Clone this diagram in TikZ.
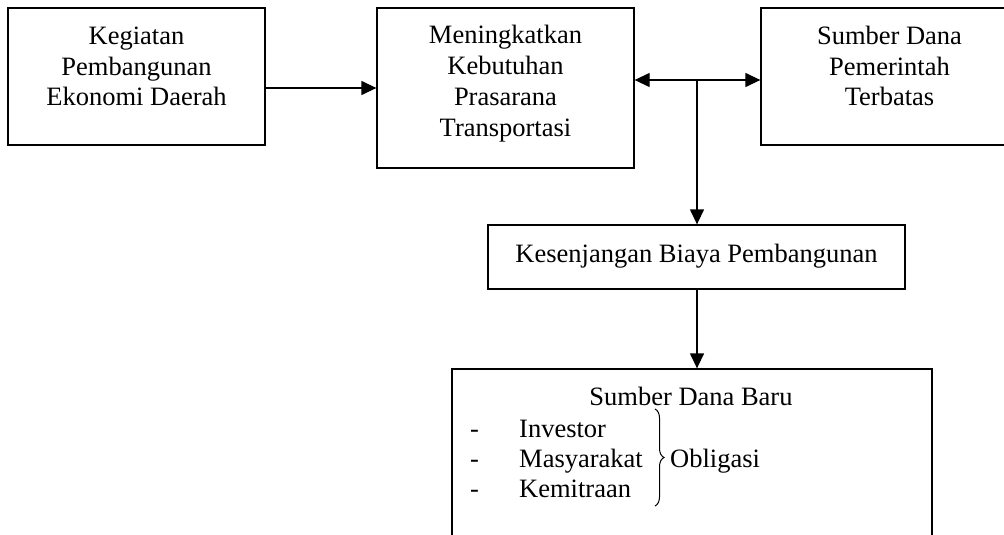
\documentclass[tikz,border=0pt]{standalone}
\usepackage{fontspec}
\setmainfont{Liberation Serif}
\usetikzlibrary{arrows.meta,decorations.pathreplacing}
\begin{document}
\begin{tikzpicture}[x=1pt,y=-1pt,
  box/.style={draw,line width=1.3pt,rectangle,inner sep=0pt},
  txt/.style={font=\fontsize{26.5}{31}\selectfont,align=center,inner sep=0pt,anchor=base},
  ltxt/.style={font=\fontsize{26.5}{31}\selectfont,inner sep=0pt,anchor=base west},
  conn/.style={line width=1.3pt,-{Triangle[length=15pt,width=14pt]}},
  dconn/.style={line width=1.3pt,{Triangle[length=15pt,width=14pt]}-{Triangle[length=15pt,width=14pt]}}]
\useasboundingbox (0,0) rectangle (1004,535);
\node[box,minimum width=257pt,minimum height=137pt] (b1) at (136.5,76.5) {};
\node[box,minimum width=257pt,minimum height=160pt] (b2) at (505.5,88) {};
\node[box,minimum width=257pt,minimum height=137pt] (b3) at (889.5,76.5) {};
\node[box,minimum width=417pt,minimum height=64pt] (b4) at (696.5,257) {};
\node[box,minimum width=480pt,minimum height=180pt] (b5) at (692,459) {};
\node[txt] (t1) at (136.5,106) {Kegiatan\\Pembangunan\\Ekonomi Daerah};
\node[txt] (t2) at (505.5,136) {Meningkatkan\\Kebutuhan\\Prasarana\\Transportasi};
\node[txt] (t3) at (889.5,106) {Sumber Dana\\Pemerintah\\Terbatas};
\node[txt] (t4) at (696.5,262) {Kesenjangan Biaya Pembangunan};
\node[txt] (t5) at (691,405) {Sumber Dana Baru};
\node[ltxt] (d1) at (470,437) {-};
\node[ltxt] (d2) at (470,467) {-};
\node[ltxt] (d3) at (470,497) {-};
\node[ltxt] (i1) at (519,437) {Investor};
\node[ltxt] (i2) at (519,467) {Masyarakat};
\node[ltxt] (i3) at (519,497) {Kemitraan};
\node[ltxt] (ob) at (670,467) {Obligasi};
\coordinate (bt) at (655,409);
\coordinate (bb) at (655,506);
\draw[line width=1pt,decorate,decoration={brace,amplitude=9pt}] (bt) -- (bb);
\coordinate (j) at (697,80);
\draw[conn] (b1.east |- b2.west) -- (b2.west);
\draw[dconn] (b2.east |- j) -- (b3.west |- j);
\draw[conn] (j) -- (j |- b4.north);
\draw[conn] (b4.south -| j) -- (j |- b5.north);
\end{tikzpicture}
\end{document}
